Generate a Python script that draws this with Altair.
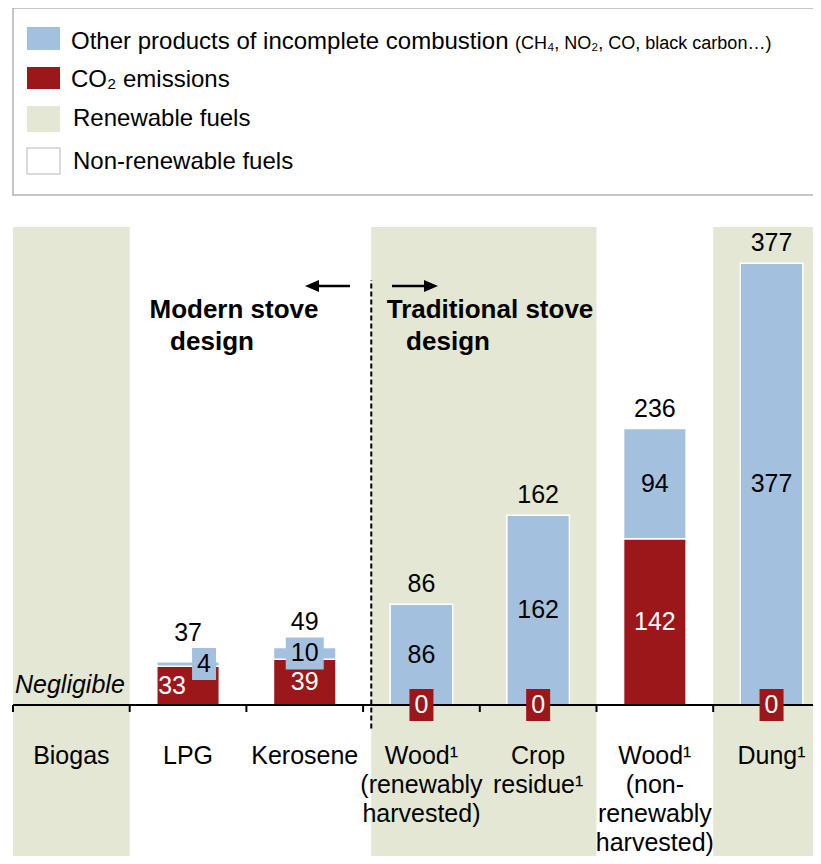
import altair as alt
import pandas as pd

# ---------------- data ----------------
fuels = ["Biogas", "LPG", "Kerosene", "Wood¹\n(renewably\nharvested)", "Crop\nresidue¹",
         "Wood¹\n(non-\nrenewably\nharvested)", "Dung¹"]
renewable = [True, False, False, True, True, False, True]
co2 = [None, 33, 39, 0, 0, 142, 0]
other = [None, 4, 10, 86, 162, 94, 377]
total = [None, 37, 49, 86, 162, 236, 377]

legend_labels = ["Other products of incomplete combustion", "CO₂ emissions",
                 "Renewable fuels", "Non-renewable fuels"]
legend_note = "(CH₄, NO₂, CO, black carbon…)"
negligible_label = "Negligible"
modern_label = ["Modern stove", "design"]
traditional_label = ["Traditional stove", "design"]

# ---------------- styling / geometry ----------------
BLUE = "#A4C0DF"
RED = "#9B1719"
GREEN = "#E4E7D4"
FONT = "Liberation Sans"
W, H = 805, 848
COLW = 116.7           # px per column
X0 = 5.0               # local px of the first column's left edge
PXU = 1.1716           # px per unit of emissions
BASE = 697.0           # local px of zero line
xdom = [-X0 / COLW, (W - X0) / COLW]
ydom = [(BASE - H) / PXU, BASE / PXU]
DIVIDER = 3.07         # modern / traditional split (column units)
BG_TOP = 408
HALF = 0.268           # half bar width (column units)
SMALL = 15
BOX_H = 32

xs = alt.Scale(domain=xdom, nice=False, zero=False)
ys = alt.Scale(domain=ydom, nice=False, zero=False)

def X(f):
    return alt.X(f, type="quantitative", scale=xs, axis=None)

def Y(f):
    return alt.Y(f, type="quantitative", scale=ys, axis=None)

# background columns: merge consecutive renewable columns into one span
spans = []
for i, r in enumerate(renewable):
    if not r:
        continue
    start = DIVIDER if i < DIVIDER < i + 1 else i
    if spans and spans[-1][1] == i:
        spans[-1][1] = i + 1
    else:
        spans.append([start, i + 1])
bg = pd.DataFrame([dict(x=s, x2=e, y=ydom[0], y2=BG_TOP) for s, e in spans])

# bars
bar_rows = []
lab_rows = []
box_rows = []
for i, (c, o, t) in enumerate(zip(co2, other, total)):
    if t is None:
        continue
    cx = i + 0.5
    if c > 0:
        bar_rows.append(dict(x=cx - HALF, x2=cx + HALF, y=0, y2=c, fill=RED))
    bar_rows.append(dict(x=cx - HALF, x2=cx + HALF, y=c, y2=t, fill=BLUE))
    red_cy = c / 2
    blue_cy = c + o / 2
    shift = 0
    if o < SMALL:
        box_bot = blue_cy - BOX_H / 2 / PXU
        if c >= SMALL and box_bot < red_cy + 12 / PXU:
            shift = 16
        w = 10 + 14 * len(str(o))
        bx = cx + shift / COLW
        box_rows.append(dict(x=bx - w / 2 / COLW, x2=bx + w / 2 / COLW,
                             y=blue_cy - BOX_H / 2 / PXU, y2=blue_cy + BOX_H / 2 / PXU, fill=BLUE))
        lab_rows.append(dict(x=bx, y=blue_cy, text=str(o), tcolor="black"))
        tot_y = blue_cy + BOX_H / 2 / PXU + 15 / PXU
    else:
        lab_rows.append(dict(x=cx, y=blue_cy, text=str(o), tcolor="black"))
        tot_y = t + 20 / PXU
    if c == 0:
        w = 24
        box_rows.append(dict(x=cx - w / 2 / COLW, x2=cx + w / 2 / COLW,
                             y=-BOX_H / 2 / PXU, y2=BOX_H / 2 / PXU, fill=RED))
        lab_rows.append(dict(x=cx, y=0, text="0", tcolor="white"))
    else:
        lab_rows.append(dict(x=cx - shift / COLW, y=red_cy, text=str(c), tcolor="white"))
    lab_rows.append(dict(x=cx, y=tot_y, text=str(t), tcolor="black"))

bars_df = pd.DataFrame(bar_rows)
labs_df = pd.DataFrame(lab_rows)
boxes_df = pd.DataFrame(box_rows)
axis_df = pd.DataFrame([dict(x=0, x2=7.2, y=0)])
ticks_df = pd.DataFrame([dict(x=i, y=0, y2=-7 / PXU) for i in range(len(fuels))])
div_df = pd.DataFrame([dict(x=DIVIDER, y=-20, y2=362.7)])
cat_df = pd.DataFrame([dict(x=i + 0.5, text=f) for i, f in enumerate(fuels)])
one = pd.DataFrame([dict(a=1)])

layers = []
layers.append(alt.Chart(bg).mark_rect(fill=GREEN).encode(x=X("x"), x2="x2", y=Y("y"), y2="y2"))

# legend
layers.append(alt.Chart(one).mark_rect(fill="white", stroke="#B4B4B4", strokeWidth=1.5).encode(
    x=alt.value(5), x2=alt.value(830), y=alt.value(0), y2=alt.value(187)))
sw = [(BLUE, 19, 42, None), (RED, 59, 81, None), (GREEN, 98, 124, None), ("white", 140, 166, "#D0D0D0")]
for col, y1, y2, st in sw:
    kw = dict(fill=col)
    if st:
        kw.update(stroke=st, strokeWidth=1.5)
    layers.append(alt.Chart(one).mark_rect(**kw).encode(
        x=alt.value(19), x2=alt.value(52), y=alt.value(y1), y2=alt.value(y2)))
layers.append(alt.Chart(one).mark_text(text=legend_labels[0], fontSize=24, align="left",
                                       baseline="alphabetic", color="black").encode(
    x=alt.value(63), y=alt.value(41)))
layers.append(alt.Chart(one).mark_text(text=legend_note, fontSize=18, align="left",
                                       baseline="alphabetic", color="black").encode(
    x=alt.value(507), y=alt.value(41)))
for txt, lx, ly in [(legend_labels[1], 63, 72), (legend_labels[2], 65, 111), (legend_labels[3], 65, 154)]:
    layers.append(alt.Chart(one).mark_text(text=txt, fontSize=24, align="left",
                                           baseline="middle", color="black").encode(
        x=alt.value(lx), y=alt.value(ly)))

# bars
layers.append(alt.Chart(bars_df).mark_rect(stroke="white", strokeWidth=1.5).encode(
    x=X("x"), x2="x2", y=Y("y"), y2="y2", fill=alt.Fill("fill:N", scale=None)))

# axis
layers.append(alt.Chart(axis_df).mark_rule(color="black", strokeWidth=2).encode(
    x=X("x"), x2="x2", y=Y("y")))
layers.append(alt.Chart(ticks_df).mark_rule(color="black", strokeWidth=2).encode(
    x=X("x"), y=Y("y"), y2="y2"))
layers.append(alt.Chart(div_df).mark_rule(color="black", strokeWidth=2, strokeDash=[5, 3]).encode(
    x=X("x"), y=Y("y"), y2="y2"))

# label boxes and labels
layers.append(alt.Chart(boxes_df).mark_rect().encode(
    x=X("x"), x2="x2", y=Y("y"), y2="y2", fill=alt.Fill("fill:N", scale=None)))
layers.append(alt.Chart(labs_df).mark_text(fontSize=25, baseline="middle", align="center").encode(
    x=X("x"), y=Y("y"), text="text:N", color=alt.Color("tcolor:N", scale=None)))

# category labels
layers.append(alt.Chart(cat_df).mark_text(fontSize=25, baseline="alphabetic", align="center",
                                          lineBreak="\n", lineHeight=29, color="black").encode(
    x=X("x"), y=alt.value(756), text="text:N"))

# annotations
layers.append(alt.Chart(one).mark_text(text=negligible_label, fontSize=25, fontStyle="italic",
                                       align="left", baseline="middle", color="black").encode(
    x=alt.value(7), y=alt.value(677)))
for txt, cx, cy in [(modern_label[0], 226, 302), (modern_label[1], 204, 334),
                    (traditional_label[0], 482, 302), (traditional_label[1], 440, 334)]:
    layers.append(alt.Chart(one).mark_text(text=txt, fontSize=26, fontWeight="bold",
                                           align="center", baseline="middle", color="black").encode(
        x=alt.value(cx), y=alt.value(cy)))
# arrows
layers.append(alt.Chart(one).mark_rule(color="black", strokeWidth=2.5).encode(
    x=alt.value(305), x2=alt.value(342), y=alt.value(278)))
layers.append(alt.Chart(one).mark_rule(color="black", strokeWidth=2.5).encode(
    x=alt.value(384), x2=alt.value(422), y=alt.value(278)))
layers.append(alt.Chart(one).mark_point(shape="M-1,0L1,-0.85L1,0.85Z", filled=True, size=196,
                                        color="black", opacity=1).encode(
    x=alt.value(304), y=alt.value(278)))
layers.append(alt.Chart(one).mark_point(shape="M1,0L-1,-0.85L-1,0.85Z", filled=True, size=196,
                                        color="black", opacity=1).encode(
    x=alt.value(423), y=alt.value(278)))

chart = alt.layer(*layers).properties(
    width=W, height=H, padding=0, autosize=alt.AutoSizeParams(type="none")
).configure(font=FONT).configure_view(strokeWidth=0)

chart.save("out.html", embed_options={"renderer": "svg", "actions": False})
